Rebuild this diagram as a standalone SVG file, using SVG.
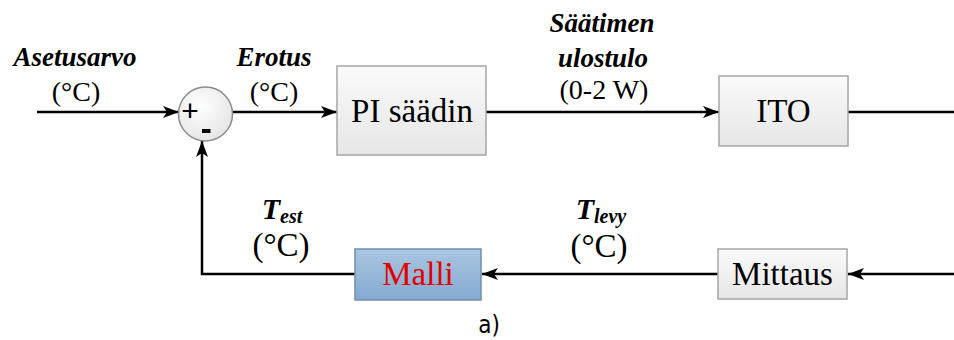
<svg xmlns="http://www.w3.org/2000/svg" width="954" height="340" viewBox="0 0 954 340">
  <defs>
    <linearGradient id="boxFill" x1="0" y1="0" x2="0" y2="1">
      <stop offset="0" stop-color="#fafafa"/>
      <stop offset="1" stop-color="#e6e6e6"/>
    </linearGradient>
    <linearGradient id="modelFill" x1="0" y1="0" x2="0" y2="1">
      <stop offset="0" stop-color="#a9c6e2"/>
      <stop offset="1" stop-color="#84a9cf"/>
    </linearGradient>
    <radialGradient id="sumFill" cx="0.4" cy="0.35" r="0.7">
      <stop offset="0" stop-color="#ffffff"/>
      <stop offset="1" stop-color="#e4e4e4"/>
    </radialGradient>
    <marker id="arrow" viewBox="0 0 16 12" refX="16" refY="6" markerWidth="16" markerHeight="12" markerUnits="userSpaceOnUse" orient="auto">
      <path d="M0,0 L16,6 L0,12 L4,6 Z" fill="#000"/>
    </marker>
  </defs>
  <style>
    .wire { stroke: #000; stroke-width: 2.5; fill: none; }
    .box { fill: url(#boxFill); stroke: #a6a6a6; stroke-width: 1.5; }
    .label { font-family: "Liberation Serif", "Times New Roman", serif; font-style: italic; font-weight: bold; font-size: 27px; fill: #000; text-anchor: middle; }
    .unit { font-family: "Liberation Serif", "Times New Roman", serif; font-size: 28px; fill: #000; text-anchor: middle; }
    .unit-lg { font-size: 33px; }
    .boxtext { font-family: "Liberation Serif", "Times New Roman", serif; font-size: 33px; text-anchor: middle; fill: #000; }
    .model { fill: #e00000; }
  </style>

  <!-- signal lines -->
  <g id="connectors">
    <line class="wire" x1="37" y1="112" x2="179" y2="112" marker-end="url(#arrow)"/>
    <line class="wire" x1="232" y1="112" x2="337" y2="112" marker-end="url(#arrow)"/>
    <line class="wire" x1="486" y1="112" x2="719" y2="112" marker-end="url(#arrow)"/>
    <line class="wire" x1="848" y1="112" x2="954" y2="112"/>
    <line class="wire" x1="954" y1="274" x2="848" y2="274" marker-end="url(#arrow)"/>
    <line class="wire" x1="718" y1="274" x2="482" y2="274" marker-end="url(#arrow)"/>
    <polyline class="wire" points="355,274 202,274 202,141" marker-end="url(#arrow)"/>
  </g>

  <!-- summing junction -->
  <g id="sum">
    <circle cx="205.5" cy="114" r="27" fill="url(#sumFill)" stroke="#8c8c8c" stroke-width="1.5"/>
    <text x="190" y="121" font-family="Liberation Sans, Arial, sans-serif" font-size="30" text-anchor="middle">+</text>
    <rect x="202" y="129" width="8.5" height="4" fill="#000"/>
  </g>

  <g id="pi">
    <rect class="box" x="337" y="66" width="149" height="89"/>
    <text class="boxtext" x="412" y="122">PI säädin</text>
  </g>

  <g id="ito">
    <rect class="box" x="719" y="76" width="129" height="70"/>
    <text class="boxtext" x="783.5" y="122">ITO</text>
  </g>

  <g id="mittaus">
    <rect class="box" x="718" y="249" width="129" height="50"/>
    <text class="boxtext" x="782.5" y="285">Mittaus</text>
  </g>

  <g id="malli">
    <rect x="355" y="249" width="126" height="51" fill="url(#modelFill)" stroke="#6f8fae" stroke-width="1.5"/>
    <text class="boxtext model" x="418" y="285">Malli</text>
  </g>

  <!-- signal labels -->
  <g id="labels">
    <text class="label" x="75" y="66">Asetusarvo</text>
    <text class="unit" x="76" y="101">(°C)</text>

    <text class="label" x="274" y="66">Erotus</text>
    <text class="unit" x="274" y="101">(°C)</text>

    <text class="label" x="602" y="32">Säätimen</text>
    <text class="label" x="603" y="67">ulostulo</text>
    <text class="unit" x="604" y="99">(0-2 W)</text>

    <text class="label" x="282" y="219" style="font-size:30px">T<tspan style="font-size:20px" dy="4">est</tspan></text>
    <text class="unit unit-lg" x="281" y="256">(°C)</text>

    <text class="label" x="601" y="219" style="font-size:30px">T<tspan style="font-size:20px" dy="4">levy</tspan></text>
    <text class="unit unit-lg" x="599" y="257">(°C)</text>
  </g>

  <text x="489" y="333" font-family="DejaVu Sans Condensed, Liberation Sans, sans-serif" font-stretch="condensed" font-size="24" text-anchor="middle" fill="#000">a)</text>
</svg>
